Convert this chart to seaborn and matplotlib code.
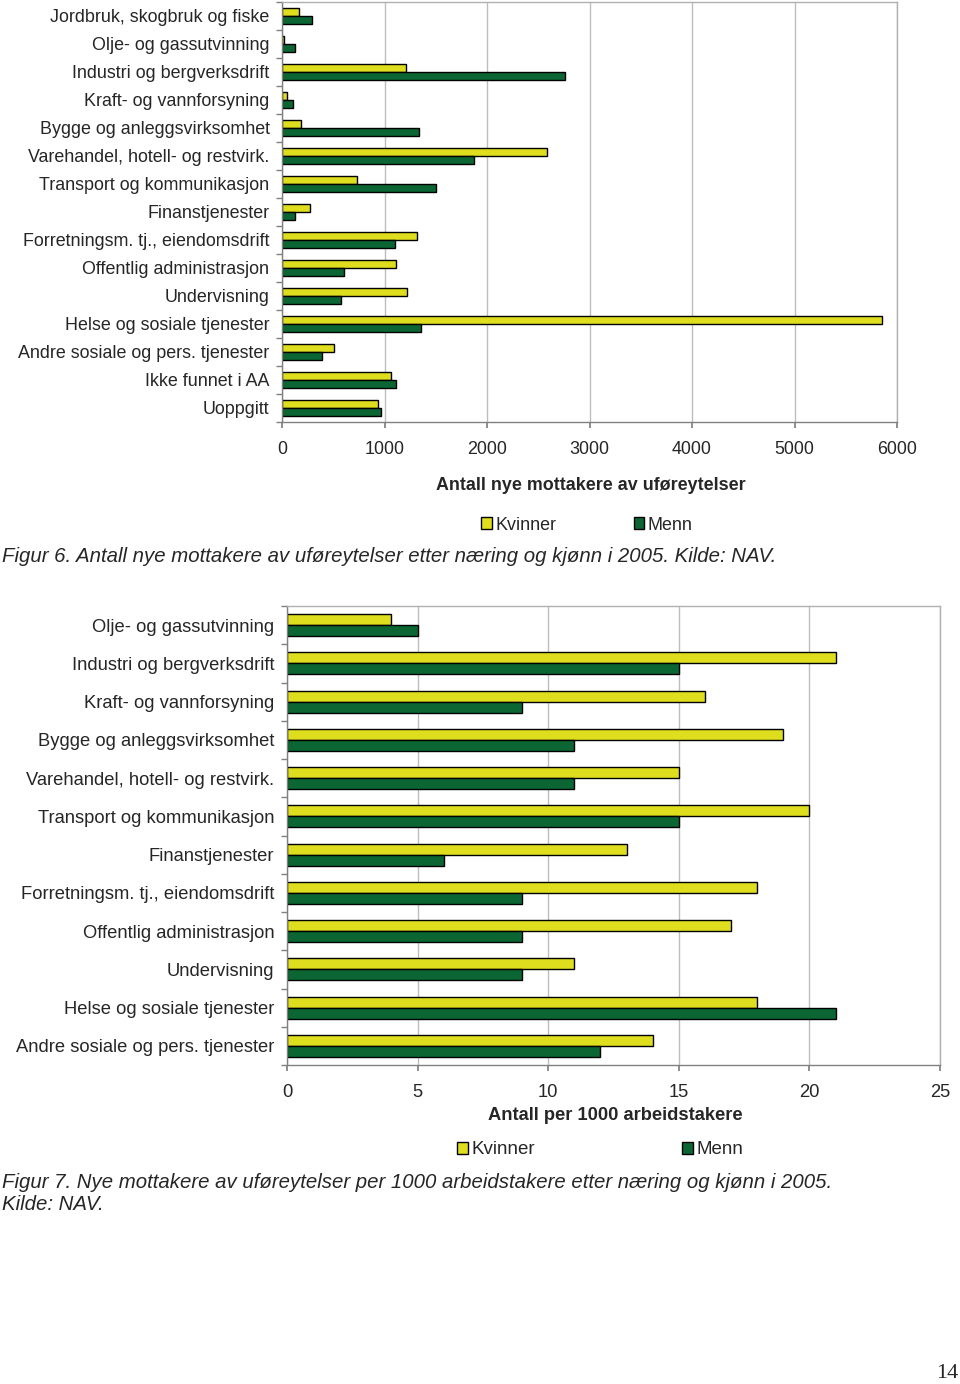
import numpy as np
import pandas as pd
import matplotlib.pyplot as plt
import seaborn as sns
from matplotlib.patches import Patch

sns.set_theme(style="ticks")
plt.rcParams['font.family'] = ['Liberation Sans', 'DejaVu Sans']

# Figur 6: antall nye mottakere av uføreytelser
naeringer_fig6 = [
    "Jordbruk, skogbruk og fiske", "Olje- og gassutvinning", "Industri og bergverksdrift",
    "Kraft- og vannforsyning", "Bygge og anleggsvirksomhet", "Varehandel, hotell- og restvirk.",
    "Transport og kommunikasjon", "Finanstjenester", "Forretningsm. tj., eiendomsdrift",
    "Offentlig administrasjon", "Undervisning", "Helse og sosiale tjenester",
    "Andre sosiale og pers. tjenester", "Ikke funnet i AA", "Uoppgitt",
]
kvinner_fig6 = [170, 20, 1210, 45, 190, 2590, 735, 275, 1315, 1115, 1220, 5850, 505, 1060, 940]
menn_fig6 = [290, 125, 2760, 110, 1340, 1870, 1500, 130, 1100, 605, 575, 1360, 395, 1115, 965]

# Figur 7: per 1000 arbeidstakere
naeringer_fig7 = [
    "Olje- og gassutvinning", "Industri og bergverksdrift", "Kraft- og vannforsyning",
    "Bygge og anleggsvirksomhet", "Varehandel, hotell- og restvirk.", "Transport og kommunikasjon",
    "Finanstjenester", "Forretningsm. tj., eiendomsdrift", "Offentlig administrasjon",
    "Undervisning", "Helse og sosiale tjenester", "Andre sosiale og pers. tjenester",
]
kvinner_fig7 = [4, 21, 16, 19, 15, 20, 13, 18, 17, 11, 18, 14]
menn_fig7 = [5, 15, 9, 11, 11, 15, 6, 9, 9, 9, 21, 12]

colors = {"Kvinner": "#DEDE1F", "Menn": "#0B6633"}


def draw_panel(ax, cats, kv, me, xmax, step, fs):
    n = len(cats)
    df = pd.DataFrame({
        "Næring": cats * 2,
        "Kjønn": ["Kvinner"] * n + ["Menn"] * n,
        "Antall": kv + me,
    })
    sns.barplot(data=df, y="Næring", x="Antall", hue="Kjønn", palette=colors,
                orient="h", width=0.57, edgecolor="black", linewidth=1,
                saturation=1, legend=False, ax=ax)
    ax.set_xlim(0, xmax)
    ax.set_xticks(np.arange(0, xmax + 1, step))
    ax.set_yticks(np.arange(-0.5, n, 1), minor=True)
    ax.xaxis.grid(True, color="#BDBDBD", lw=1)
    ax.set_axisbelow(True)
    ax.set_xlabel("")
    ax.set_ylabel("")
    ax.tick_params(axis="y", which="major", length=0, pad=9, labelsize=fs)
    ax.tick_params(axis="y", which="minor", length=4, color="#808080", left=True)
    ax.tick_params(axis="x", length=4, color="#808080", pad=10, labelsize=fs)
    for s in ["left", "bottom"]:
        ax.spines[s].set_color("#808080")
    for s in ["top", "right"]:
        ax.spines[s].set_color("#B0B0B0")
    for s in ax.spines.values():
        s.set_linewidth(1)


def add_legend(ax, fig, x, y, spacing, fs):
    handles = [Patch(facecolor=colors[k], edgecolor="black", lw=1, label=k) for k in colors]
    ax.legend(handles=handles, loc="center", bbox_to_anchor=(x, y),
              bbox_transform=fig.transFigure, ncol=2, frameon=False,
              handlelength=0.6, handleheight=0.6, handletextpad=0.2,
              columnspacing=spacing, fontsize=fs, borderpad=0)


W, H = 960, 1384
fig = plt.figure(figsize=(W / 100, H / 100), dpi=100)

fs1 = 12.9
ax1 = fig.add_axes([282 / W, 1 - 422 / H, (897 - 282) / W, (422 - 2) / H])
draw_panel(ax1, naeringer_fig6, kvinner_fig6, menn_fig6, 6000, 1000, fs1)
fig.text(591 / W, 1 - 486 / H, "Antall nye mottakere av uføreytelser",
         ha="center", va="center", fontsize=fs1, fontweight="bold")
add_legend(ax1, fig, 587 / W, 1 - 525 / H, 4.3, fs1)
fig.text(2 / W, 1 - 557 / H,
         "Figur 6. Antall nye mottakere av uføreytelser etter næring og kjønn i 2005. Kilde: NAV.",
         ha="left", va="center", fontsize=14.7, style="italic")

fs2 = 13.2
ax2 = fig.add_axes([287 / W, 1 - 1065 / H, (940 - 287) / W, (1065 - 606) / H])
draw_panel(ax2, naeringer_fig7, kvinner_fig7, menn_fig7, 25, 5, fs2)
fig.text(615 / W, 1 - 1115 / H, "Antall per 1000 arbeidstakere",
         ha="center", va="center", fontsize=fs2, fontweight="bold")
add_legend(ax2, fig, 600 / W, 1 - 1150 / H, 7.8, fs2 + 0.3)
fig.text(2 / W, 1 - 1182 / H,
         "Figur 7. Nye mottakere av uføreytelser per 1000 arbeidstakere etter næring og kjønn i 2005.",
         ha="left", va="center", fontsize=14.7, style="italic")
fig.text(2 / W, 1 - 1205 / H, "Kilde: NAV.",
         ha="left", va="center", fontsize=14.7, style="italic")

fig.text(958 / W, 1 - 1373 / H, "14", ha="right", va="center",
         fontsize=16, family="Liberation Serif")

fig.savefig("out.png", dpi=100)
